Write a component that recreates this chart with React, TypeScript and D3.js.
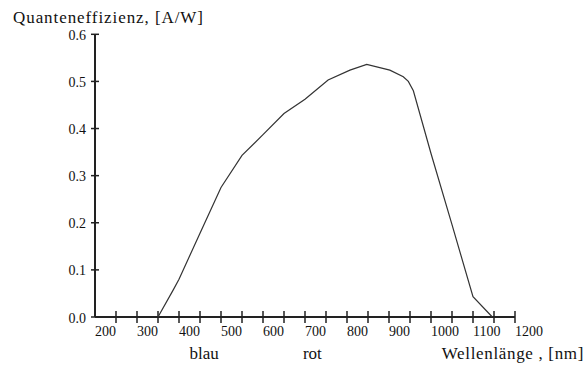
import React, { useEffect, useRef } from "react";
import * as d3 from "d3";

const wavelength = [350, 386, 400, 450, 500, 550, 600, 650, 700, 755, 807, 847, 902, 934, 946, 958, 1000, 1050, 1100, 1146];
const efficiency = [0.0, 0.057, 0.08, 0.178, 0.275, 0.343, 0.387, 0.432, 0.462, 0.503, 0.524, 0.536, 0.524, 0.51, 0.5, 0.48, 0.347, 0.196, 0.043, 0.0];

const xLabels = [200, 300, 400, 500, 600, 700, 800, 900, 1000, 1100, 1200];
const xMinorTicks = d3.range(250, 1201, 50);
const yTicks = [0, 0.1, 0.2, 0.3, 0.4, 0.5, 0.6];

const yTitle = "Quanteneffizienz, [A/W]";
const xTitle = "Wellenlänge , [nm]";
const colorLabels = [
  { text: "blau", at: 425 },
  { text: "rot", at: 695 },
];

const FONT = "'Liberation Serif', 'Times New Roman', serif";

export default function App() {
  const W = 586;
  const H = 367;
  const ref = useRef<SVGSVGElement>(null);
  const x = d3.scaleLinear().domain([200, 1200]).range([95, 515]);
  const y = d3.scaleLinear().domain([0, 0.6]).range([317, 34.3]);
  const pts: [number, number][] = wavelength.map((w, i) => [w, efficiency[i]]);
  const line = d3
    .line<[number, number]>()
    .x((d) => x(d[0]))
    .y((d) => y(d[1]));

  useEffect(() => {
    if (!ref.current) return;
    d3.select(ref.current)
      .selectAll<SVGTextElement, unknown>("text")
      .each(function () {
        this.style.setProperty("font-family", FONT, "important");
      });
  }, []);

  return (
    <div style={{ position: "absolute", left: 0, top: 0 }}>
      <style>{`#root svg.qe text { font-family: ${FONT} !important; }`}</style>
      <svg ref={ref} className="qe" width={W} height={H} style={{ display: "block" }}>
        <rect x={0} y={0} width={W} height={H} fill="#fff" />
        <text x={13} y={23} fontSize={17} fill="#111" textLength={190} lengthAdjust="spacing">
          {yTitle}
        </text>
        <line x1={x(200)} x2={x(200)} y1={y(0.6)} y2={y(0)} stroke="#222" strokeWidth={2} />
        <line x1={x(200)} x2={x(1200)} y1={y(0)} y2={y(0)} stroke="#222" strokeWidth={2} />
        {yTicks.map((t) => (
          <g key={"y" + t}>
            <line x1={x(200) - 4} x2={x(200) + 4} y1={y(t)} y2={y(t)} stroke="#222" strokeWidth={1.5} />
            <text x={86} y={y(t) + 5.5} fontSize={14} textAnchor="end" fill="#111">
              {t.toFixed(1)}
            </text>
          </g>
        ))}
        {xMinorTicks.map((t) => (
          <line key={"xt" + t} x1={x(t)} x2={x(t)} y1={y(0) - 6} y2={y(0) + 6} stroke="#222" strokeWidth={1.5} />
        ))}
        {xLabels.map((t) => (
          <text key={"xl" + t} x={x(t)} y={336} fontSize={14} fill="#111">
            {t}
          </text>
        ))}
        {colorLabels.map((c) => (
          <text key={c.text} x={x(c.at)} y={359} fontSize={17} fill="#111">
            {c.text}
          </text>
        ))}
        <text x={441.7} y={359} fontSize={17} fill="#111" textLength={141.7} lengthAdjust="spacing">
          {xTitle}
        </text>
        <path d={line(pts) || ""} fill="none" stroke="#333" strokeWidth={1.2} />
      </svg>
    </div>
  );
}
